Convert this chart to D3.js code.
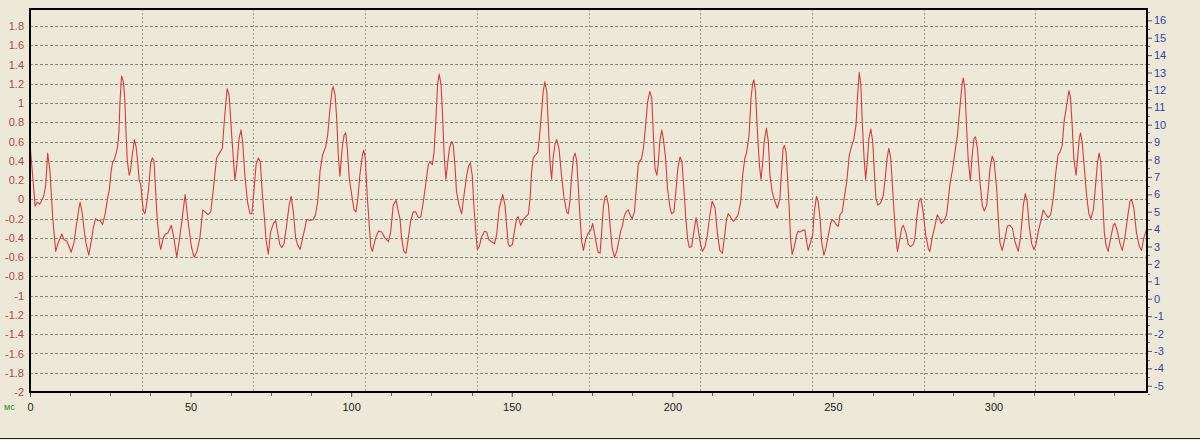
<!DOCTYPE html>
<html><head><meta charset="utf-8">
<script src="https://cdn.jsdelivr.net/npm/d3@7"></script>
<style>html,body{margin:0;padding:0;background:#ece9d8;}svg{display:block;}</style>
</head><body><svg id="chart" width="1200" height="440"></svg>
<script>
// ---- data (time in ms, value) ----
const signal = [
[0,0.58],[1.6,-0.07],[2.3,-0.03],[3.0,-0.05],[3.7,-0.01],[4.3,0.04],[4.9,0.15],[5.5,0.48],[6.2,0.3],[7.1,-0.2],[8.0,-0.54],[8.8,-0.45],[9.9,-0.36],[10.6,-0.42],[11.4,-0.43],[12.3,-0.5],[12.8,-0.55],[13.7,-0.45],[14.3,-0.3],[15.2,-0.1],[15.6,-0.03],[16.3,-0.15],[16.8,-0.3],[17.4,-0.45],[18.3,-0.58],[19.0,-0.45],[19.7,-0.3],[20.4,-0.2],[21.1,-0.22],[21.8,-0.22],[22.6,-0.26],[23.4,-0.15],[24.1,0.0],[24.7,0.1],[25.3,0.3],[25.7,0.38],[26.3,0.42],[27.0,0.5],[27.3,0.56],[27.7,0.7],[28.0,1.0],[28.5,1.28],[29.1,1.22],[29.5,1.05],[29.9,0.7],[30.3,0.4],[30.9,0.25],[31.3,0.3],[31.8,0.45],[32.5,0.62],[33.0,0.55],[33.5,0.4],[34.0,0.2],[34.5,0.15],[34.9,0.0],[35.3,-0.12],[35.8,-0.15],[36.3,-0.05],[36.9,0.1],[37.6,0.38],[38.1,0.43],[38.6,0.4],[39.1,0.1],[39.6,-0.2],[40.3,-0.45],[40.7,-0.52],[41.5,-0.4],[42.2,-0.36],[42.9,-0.35],[43.6,-0.3],[44.0,-0.27],[44.8,-0.4],[45.7,-0.6],[46.4,-0.45],[47.2,-0.25],[48.3,0.05],[48.8,-0.1],[49.5,-0.3],[50.3,-0.5],[51.1,-0.6],[51.9,-0.55],[52.9,-0.4],
[53.8,-0.11],[54.5,-0.13],[55.5,-0.16],[56.3,-0.13],[57.1,0.11],[58.1,0.43],[59.0,0.48],[59.9,0.53],[60.4,0.77],[61.0,1.01],[61.4,1.15],[62.0,1.08],[62.6,0.77],[63.3,0.43],[63.8,0.2],[64.4,0.36],[65.1,0.63],[65.7,0.72],[66.2,0.6],[66.9,0.25],[67.7,-0.02],[68.5,-0.15],[69.1,-0.15],[69.7,0.08],[70.4,0.36],[71.1,0.43],[71.7,0.39],[72.3,0.08],[73.0,-0.2],[73.5,-0.42],[74.2,-0.57],[74.9,-0.34],[75.8,-0.25],[76.5,-0.22],[77.1,-0.34],[77.8,-0.47],[78.4,-0.5],[79.1,-0.46],[79.9,-0.27],[80.7,-0.06],[81.3,0.03],[82.0,-0.13],[82.7,-0.4],[83.3,-0.47],[84.1,-0.52],[84.9,-0.4],[85.6,-0.3],[86.1,-0.21],[87.2,-0.22],[88.2,-0.21],[88.9,-0.16],[89.6,-0.02],[90.3,0.29],[91.1,0.46],[92.1,0.55],[92.7,0.67],[93.4,0.94],[94.0,1.12],[94.4,1.17],[95.0,1.08],[95.5,0.84],[96.0,0.46],[96.5,0.24],[97.2,0.53],[97.8,0.67],[98.3,0.69],[98.8,0.53],[99.4,0.22],[100.2,0.04],[100.9,-0.11],[101.5,-0.13],[102.1,0.01],[102.7,0.25],[103.5,0.46],[103.9,0.51],[104.4,0.43],[105.0,0.04],[105.7,-0.3],[106.1,-0.49],[106.6,-0.54],[107.1,-0.47],[107.7,-0.39],[108.5,-0.33],[109.5,-0.34],[110.5,-0.4],[111.6,-0.44],[112.3,-0.34],[113.1,-0.06],[114.0,-0.01],[114.7,-0.13],[115.2,-0.2],
[115.7,-0.4],[116.4,-0.54],[117.1,-0.56],[117.8,-0.4],[118.5,-0.23],[119.3,-0.13],[120.1,-0.13],[120.9,-0.19],[121.7,-0.18],[122.5,-0.02],[123.3,0.18],[124.0,0.36],[124.5,0.39],[125.3,0.36],[125.8,0.49],[126.4,0.84],[126.9,1.19],[127.4,1.3],[128.0,1.19],[128.5,0.84],[129.0,0.43],[129.5,0.21],[130.0,0.36],[130.6,0.53],[131.3,0.6],[131.8,0.56],[132.3,0.36],[132.8,0.08],[133.6,-0.06],[134.4,-0.15],[134.9,-0.02],[135.4,0.11],[136.0,0.25],[136.5,0.34],[137.1,0.38],[137.7,0.25],[138.2,-0.06],[138.8,-0.34],[139.3,-0.52],[139.9,-0.49],[140.6,-0.39],[141.5,-0.33],[142.2,-0.34],[142.9,-0.42],[143.7,-0.44],[144.6,-0.46],[145.3,-0.37],[146.1,-0.09],[147.2,0.05],[147.9,-0.06],[148.4,-0.27],[148.9,-0.46],[149.4,-0.49],[150.2,-0.47],[150.8,-0.34],[151.5,-0.2],[152.0,-0.18],[152.8,-0.27],[153.6,-0.21],[154.4,-0.18],[155.2,-0.15],[155.7,0.01],[156.2,0.29],[156.7,0.43],[157.4,0.46],[158.1,0.49],[158.6,0.63],[159.3,0.91],[159.8,1.12],[160.3,1.22],[160.9,1.12],[161.4,0.77],[161.9,0.39],[162.4,0.21],[162.9,0.43],[163.5,0.58],[164.0,0.62],[164.7,0.53],[165.5,0.25],[166.3,0.01],[167.1,-0.13],[167.6,-0.15],[168.1,-0.02],[168.6,0.22],[169.2,0.43],[169.7,0.48],[170.2,0.41],[170.7,0.15],[171.2,-0.16],[171.8,-0.44],[172.3,-0.53],[173.0,-0.42],[173.8,-0.35],[174.6,-0.32],[175.2,-0.25],[175.7,-0.34],[176.4,-0.47],[176.9,-0.55],[177.5,-0.56],
[178.0,-0.34],[178.5,-0.09],[179.0,0.02],[179.5,0.04],[180.1,-0.06],[180.6,-0.27],[181.3,-0.51],[182.0,-0.6],[182.7,-0.54],[183.4,-0.42],[184.0,-0.32],[184.5,-0.27],[185.0,-0.18],[185.6,-0.13],[186.3,-0.11],[186.8,-0.16],[187.5,-0.2],[188.2,-0.13],[188.7,0.08],[189.4,0.36],[189.9,0.4],[190.4,0.42],[191.0,0.53],[191.7,0.77],[192.3,1.01],[193.0,1.12],[193.6,1.05],[194.1,0.67],[194.6,0.32],[195.2,0.25],[195.6,0.36],[196.1,0.6],[196.7,0.72],[197.2,0.63],[197.9,0.43],[198.5,0.11],[199.3,-0.09],[199.8,-0.15],[200.5,-0.13],[201.1,0.08],[201.7,0.32],[202.4,0.44],[203.0,0.39],[203.6,0.11],[204.2,-0.2],[204.8,-0.42],[205.3,-0.5],[206.0,-0.49],[206.7,-0.34],[207.4,-0.19],[208.1,-0.32],[208.8,-0.47],[209.4,-0.54],[210.2,-0.49],[210.9,-0.37],[211.7,-0.16],[212.4,-0.02],[213.3,-0.09],[214.0,-0.34],[214.8,-0.53],[215.6,-0.56],[216.2,-0.4],[216.9,-0.2],[217.4,-0.15],[218.1,-0.18],[219.0,-0.23],[219.7,-0.2],[220.5,-0.16],[221.3,-0.02],[221.9,0.25],[222.6,0.43],[223.1,0.48],[223.9,0.67],[224.5,1.05],[225.0,1.2],[225.4,1.24],[225.9,1.12],[226.4,0.77],[227.1,0.36],[227.6,0.21],[228.1,0.36],[228.6,0.6],[229.3,0.74],[229.9,0.6],[230.4,0.25],[231.1,0.08],[231.9,-0.02],[232.7,-0.09],[233.5,0.01],[234.0,0.29],[234.5,0.53],[234.9,0.56],[235.4,0.49],[235.9,0.22],[236.4,-0.09],[236.8,-0.4],[237.3,-0.57],[238.0,-0.49],[238.7,-0.37],[239.2,-0.33],[239.7,-0.34],
[240.6,-0.32],[241.3,-0.32],[241.8,-0.44],[242.3,-0.53],[243.1,-0.44],[243.7,-0.37],[244.2,-0.13],[244.9,0.03],[245.4,-0.02],[246.0,-0.2],[246.5,-0.44],[247.2,-0.58],[247.8,-0.51],[248.6,-0.37],[249.3,-0.25],[249.8,-0.21],[250.4,-0.23],[251.2,-0.27],[251.7,-0.28],[252.2,-0.16],[252.9,-0.13],[253.5,0.01],[254.3,0.18],[255.1,0.46],[255.8,0.55],[256.5,0.62],[257.2,0.77],[257.7,1.08],[258.2,1.32],[258.7,1.19],[259.1,0.84],[259.7,0.43],[260.2,0.21],[260.7,0.39],[261.2,0.63],[261.8,0.73],[262.4,0.6],[262.9,0.29],[263.4,0.01],[264.0,-0.06],[264.8,-0.04],[265.7,0.04],[266.3,0.22],[266.9,0.43],[267.4,0.53],[268.0,0.43],[268.6,0.11],[269.1,-0.16],[269.6,-0.4],[270.1,-0.54],[270.9,-0.4],[271.4,-0.3],[271.9,-0.27],[272.7,-0.34],[273.5,-0.47],[274.2,-0.49],[275.0,-0.47],[275.5,-0.42],[276.1,-0.2],[276.8,-0.02],[277.4,0.01],[278.1,-0.13],[278.9,-0.37],[279.7,-0.51],[280.2,-0.54],[280.9,-0.4],[281.8,-0.27],[282.5,-0.16],[283.1,-0.2],[283.8,-0.25],[284.6,-0.22],[285.4,-0.16],[285.9,-0.02],[286.4,0.15],[287.3,0.32],[288.0,0.49],[288.8,0.67],[289.5,0.94],[290.2,1.19],[290.6,1.26],[291.1,1.15],[291.6,0.77],[292.1,0.43],[292.8,0.19],[293.3,0.43],[293.9,0.63],[294.4,0.65],[295.0,0.53],[295.8,0.18],[296.5,-0.06],[297.1,-0.12],[297.9,-0.06],[298.4,0.11],[298.9,0.32],[299.6,0.45],[300.2,0.39],[301.0,0.11],[301.5,-0.2],[302.0,-0.45],
[302.7,-0.53],[303.6,-0.4],[304.3,-0.28],[305.1,-0.27],[305.9,-0.3],[306.7,-0.44],[307.7,-0.54],[308.4,-0.4],[309.3,-0.06],[309.9,0.06],[310.5,-0.02],[311.1,-0.27],[311.9,-0.46],[312.6,-0.52],[313.2,-0.47],[313.9,-0.34],[314.7,-0.23],[315.5,-0.11],[316.2,-0.15],[317.0,-0.19],[317.8,-0.16],[318.6,0.01],[319.3,0.25],[320.1,0.46],[320.7,0.49],[321.4,0.56],[322.0,0.81],[322.8,0.98],[323.5,1.13],[324.0,1.05],[324.5,0.77],[325.0,0.43],[325.7,0.25],[326.2,0.43],[326.7,0.63],[327.1,0.69],[327.6,0.6],[328.3,0.32],[329.0,0.04],[329.7,-0.15],[330.3,-0.2],[331.1,-0.11],[331.8,0.15],[332.4,0.39],[332.9,0.48],[333.4,0.39],[334.0,0.01],[334.5,-0.34],[335.0,-0.47],[335.7,-0.54],[336.5,-0.4],[337.3,-0.27],[337.8,-0.25],[338.5,-0.32],[339.4,-0.46],[340.1,-0.53],[340.9,-0.4],[341.7,-0.2],[342.5,-0.02],[343.0,0.0],[343.7,-0.09],[344.5,-0.34],[345.4,-0.49],[346.1,-0.53],[346.8,-0.4],[347.4,-0.34],[347.8,-0.3]
];
const xTickValues = [0, 50, 100, 150, 200, 250, 300];
const xTickLabels = ["0", "50", "100", "150", "200", "250", "300"];
const yLeftTickValues = [-2,-1.8,-1.6,-1.4,-1.2,-1,-0.8,-0.6,-0.4,-0.2,0,0.2,0.4,0.6,0.8,1,1.2,1.4,1.6,1.8];
const yLeftTickLabels = ["-2","-1.8","-1.6","-1.4","-1.2","-1","-0.8","-0.6","-0.4","-0.2","0","0.2","0.4","0.6","0.8","1","1.2","1.4","1.6","1.8"];
const yRightTickValues = [-5,-4,-3,-2,-1,0,1,2,3,4,5,6,7,8,9,10,11,12,13,14,15,16];
const xUnitLabel = "мс";
const xDomain = [0, 347.8];
const yLeftDomain = [-2, 1.976];
const yRightDomain = [-5.36, 16.65];
const xGridDivisions = 10;

// ---- layout ----
const W = 1200, H = 440;
const L = 30, R = 1147, T = 9, B = 392;

const svg = d3.select("#chart");
svg.append("rect").attr("width", W).attr("height", H).attr("fill", "#ece9d8");

const x = d3.scaleLinear().domain(xDomain).range([L, R]);
const yL = d3.scaleLinear().domain(yLeftDomain).range([B, T]);
const yR = d3.scaleLinear().domain(yRightDomain).range([B, T]);

// grid
const grid = svg.append("g").attr("shape-rendering", "crispEdges");
grid.selectAll("line.h").data(yLeftTickValues.filter(v => v > -2))
  .join("line").attr("class", "h")
  .attr("x1", L).attr("x2", R)
  .attr("y1", d => Math.round(yL(d)) + 0.5).attr("y2", d => Math.round(yL(d)) + 0.5)
  .attr("stroke", "#8a887c").attr("stroke-dasharray", "3,2");
const vgrid = d3.range(1, xGridDivisions).map(i => xDomain[0] + i * (xDomain[1] - xDomain[0]) / xGridDivisions);
grid.selectAll("line.v").data(vgrid)
  .join("line").attr("class", "v")
  .attr("x1", d => Math.round(x(d)) + 0.5).attr("x2", d => Math.round(x(d)) + 0.5)
  .attr("y1", T).attr("y2", B)
  .attr("stroke", "#9a988c").attr("stroke-dasharray", "2,2");

// signal line
svg.append("clipPath").attr("id", "clip").append("rect")
  .attr("x", L).attr("y", T).attr("width", R - L).attr("height", B - T);
const line = d3.line().x(d => x(d[0])).y(d => yL(d[1]));
svg.append("path").datum(signal)
  .attr("clip-path", "url(#clip)")
  .attr("fill", "none").attr("stroke", "#dc3a3a").attr("stroke-width", 1.1)
  .attr("stroke-linejoin", "round")
  .attr("d", line);

// frame
const frame = svg.append("g").attr("shape-rendering", "crispEdges");
frame.append("rect").attr("x", L).attr("y", T).attr("width", R - L).attr("height", B - T)
  .attr("fill", "none").attr("stroke", "#000").attr("stroke-width", 2);

const font = "'Liberation Sans', Arial, sans-serif";

// bottom axis
const xAxis = d3.axisBottom(x).tickValues(xTickValues)
  .tickFormat((d, i) => xTickLabels[i]).tickSize(4).tickPadding(6);
const gx = svg.append("g").attr("transform", `translate(0,${B + 1})`).call(xAxis);
gx.select(".domain").remove();
gx.selectAll("text").attr("font-family", font).attr("font-size", 11).attr("fill", "#222");
gx.selectAll("line").attr("stroke", "#444");
const minorX = d3.range(0, xDomain[1], 12.5).filter(v => v % 50 !== 0);
svg.append("g").attr("shape-rendering", "crispEdges").selectAll("line").data(minorX).join("line")
  .attr("x1", d => Math.round(x(d)) + 0.5).attr("x2", d => Math.round(x(d)) + 0.5)
  .attr("y1", B + 1).attr("y2", B + 4).attr("stroke", "#666");

// left axis
const yAxisL = d3.axisLeft(yL).tickValues(yLeftTickValues)
  .tickFormat((d, i) => yLeftTickLabels[i]).tickSize(0).tickPadding(6);
const gyl = svg.append("g").attr("transform", `translate(${L},0)`).call(yAxisL);
gyl.select(".domain").remove();
gyl.selectAll("text").attr("font-family", font).attr("font-size", 11).attr("fill", "#b04848");

// right axis (major + minor ticks)
const minorR = d3.range(-5.5, 16.6, 0.5).filter(v => !Number.isInteger(v));
svg.append("g").attr("shape-rendering", "crispEdges").selectAll("line").data(minorR).join("line")
  .attr("x1", R + 1).attr("x2", R + 3)
  .attr("y1", d => Math.round(yR(d)) + 0.5).attr("y2", d => Math.round(yR(d)) + 0.5)
  .attr("stroke", "#777");
const yAxisR = d3.axisRight(yR).tickValues(yRightTickValues).tickSize(4).tickPadding(2);
const gyr = svg.append("g").attr("transform", `translate(${R + 1},0)`).call(yAxisR);
gyr.select(".domain").remove();
gyr.selectAll("text").attr("font-family", font).attr("font-size", 11).attr("fill", "#3c3ca8")
  .text((d) => String(d).replace("\u2212", "-"));
gyr.selectAll("line").attr("stroke", "#555");

// unit label
svg.append("text").attr("x", 4).attr("y", B + 18)
  .attr("font-family", font).attr("font-size", 9).attr("fill", "#2a8a2a")
  .text(xUnitLabel);

// outer bottom border
svg.append("line").attr("x1", 0).attr("x2", W).attr("y1", H - 1.5).attr("y2", H - 1.5)
  .attr("stroke", "#222").attr("stroke-width", 1);
</script></body></html>
